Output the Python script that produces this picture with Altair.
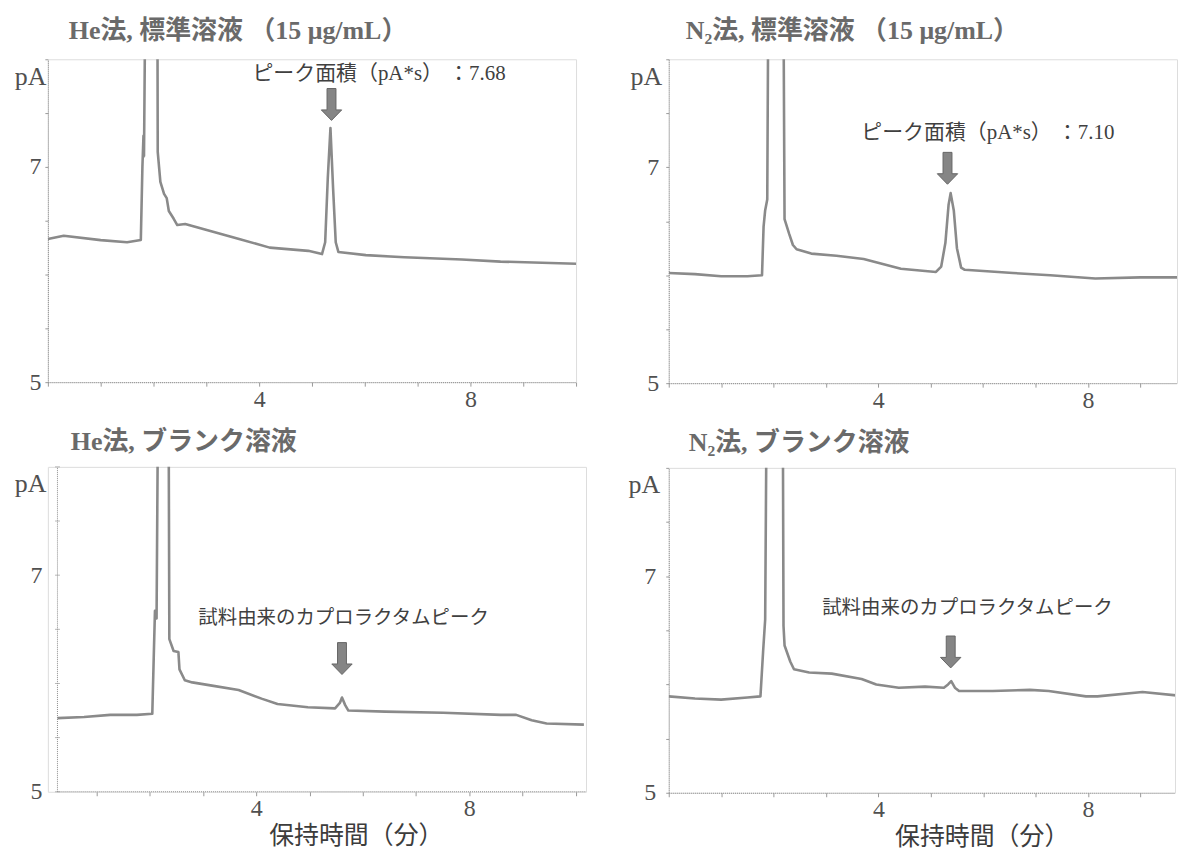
import altair as alt
import pandas as pd

# ---------------- data ----------------
# He method, standard solution (15 ug/mL)
he_std_t = [0.0, 0.3, 1.0, 1.5, 1.76, 1.79, 1.81, 1.82, 1.86, 2.07, 2.08, 2.13, 2.2, 2.25, 2.29, 2.38,
            2.45, 2.6, 3.11, 3.62, 4.2, 4.93, 5.19, 5.25, 5.3, 5.35, 5.4, 5.45, 5.5, 6.02, 6.75, 7.84,
            8.57, 10.0]
he_std_v = [6.33, 6.36, 6.32, 6.30, 6.32, 7.0, 7.29, 7.1, 9.5, 9.5, 7.14, 6.86, 6.75, 6.71, 6.59, 6.52,
            6.46, 6.47, 6.40, 6.33, 6.25, 6.22, 6.19, 6.30, 6.90, 7.36, 6.80, 6.30, 6.21, 6.18, 6.16, 6.14,
            6.12, 6.10]

# N2 method, standard solution
n2_std_t = [0.0, 0.5, 1.0, 1.5, 1.78, 1.81, 1.84, 1.88, 1.91, 2.18, 2.21, 2.3, 2.37, 2.44, 2.72, 3.2,
            3.72, 4.43, 5.1, 5.2, 5.28, 5.34, 5.38, 5.44, 5.5, 5.58, 5.65, 6.57, 7.28, 8.14, 9.0, 9.85]
n2_std_v = [6.02, 6.01, 5.99, 5.99, 6.00, 6.45, 6.60, 6.70, 9.5, 9.5, 6.52, 6.38, 6.28, 6.24, 6.20, 6.18,
            6.15, 6.06, 6.03, 6.08, 6.30, 6.65, 6.76, 6.60, 6.25, 6.07, 6.05, 6.02, 6.00, 5.97, 5.98, 5.98]

# He method, blank solution
he_blk_t = [0.27, 0.77, 1.26, 1.76, 2.05, 2.08, 2.10, 2.13, 2.17, 2.35, 2.37, 2.45, 2.54, 2.56, 2.66,
            2.80, 3.17, 3.67, 4.10, 4.40, 4.97, 5.48, 5.57, 5.61, 5.67, 5.73, 6.42, 7.51, 8.59, 8.88,
            9.17, 9.45, 10.15]
he_blk_v = [5.68, 5.69, 5.71, 5.71, 5.72, 6.30, 6.67, 6.60, 9.5, 9.5, 6.41, 6.30, 6.29, 6.13, 6.03,
            6.01, 5.98, 5.94, 5.86, 5.81, 5.78, 5.77, 5.82, 5.87, 5.80, 5.75, 5.74, 5.73, 5.71, 5.71,
            5.66, 5.63, 5.62]

# N2 method, blank solution
n2_blk_t = [0.0, 0.5, 1.0, 1.5, 1.75, 1.80, 1.84, 1.88, 2.17, 2.19, 2.21, 2.32, 2.39, 2.68, 3.11, 3.68,
            3.96, 4.39, 4.89, 5.25, 5.33, 5.39, 5.46, 5.54, 6.18, 6.89, 7.25, 7.96, 8.18, 9.04, 9.88]
n2_blk_v = [5.89, 5.87, 5.86, 5.88, 5.89, 6.30, 6.60, 9.5, 9.5, 6.54, 6.36, 6.21, 6.14, 6.11, 6.10, 6.05,
            6.00, 5.97, 5.98, 5.97, 6.00, 6.03, 5.97, 5.94, 5.94, 5.95, 5.94, 5.89, 5.89, 5.93, 5.89]

panel_titles = ["He法, 標準溶液 （15 μg/mL）", "N₂法, 標準溶液 （15 μg/mL）",
                "He法, ブランク溶液", "N₂法, ブランク溶液"]
note_texts = ["ピーク面積（pA*s） ：7.68", "ピーク面積（pA*s） ：7.10",
              "試料由来のカプロラクタムピーク", "試料由来のカプロラクタムピーク"]
# annotation anchors in data units (time, pA)
note_t = [6.27, 6.09, 5.64, 5.70]
note_v = [7.86, 7.32, 6.60, 6.71]
arrow_t = [5.37, 5.32, 5.61, 5.38]
arrow_v = [7.58, 6.99, 6.23, 6.30]

x_domains = [[0, 10], [0, 9.7], [0.09, 10.19], [0, 9.66]]
x_tick_values = [list(range(0, 11)), list(range(0, 10)), list(range(1, 11)), list(range(0, 10))]
y_tick_values = [5, 5.5, 6, 6.5, 7, 7.5, 8]
blank_he_axis_t = 0.27          # where the He-blank trace (and its frame) begins
x_axis_title = "保持時間（分）"
y_axis_title = "pA"

# ---------------- styling ----------------
SERIF = "Liberation Serif, Noto Sans CJK JP"
SANS = "Noto Sans CJK JP"
LINE = "#8a8a8a"
TXT = "#505050"
AXC = "#8c8c8c"
ARROW = "M-0.28,-1L0.28,-1L0.28,0.34L0.64,0.34L0,1L-0.64,0.34L-0.28,0.34Z"

series = [(he_std_t, he_std_v), (n2_std_t, n2_std_v), (he_blk_t, he_blk_v), (n2_blk_t, n2_blk_v)]
widths = [530, 510, 540, 508]
heights = [324, 325, 326, 326]
pa_x = [-2, -7, -2, -9]
label_pad = [4, 7, 6, 10]
title_dx = [21, 17, 23, 20]
title_off = [-11, -11, -15, -15]
note_font = [SERIF, SERIF, SANS, SANS]
note_size = [21, 21, 19.5, 19.5]
xtitle_x = [0, 0, 309, 314]


def panel(i, bottom):
    t, v = series[i]
    df = pd.DataFrame({"t": t, "v": v})
    xs = alt.Scale(domain=x_domains[i], nice=False, zero=False)
    ys = alt.Scale(domain=[5, 8], nice=False, zero=False)
    own_frame = (i == 2)
    xaxis = alt.Axis(
        values=x_tick_values[i],
        labelExpr="datum.value == 4 ? '4' : (datum.value == 8 ? '8' : '')",
        grid=False, tickSize=4, tickColor="#9a9a9a",
        domain=not own_frame, domainColor=AXC, domainDash=[1, 1], domainWidth=1,
        labelFont="Liberation Serif", labelFontSize=24, labelColor=TXT, labelPadding=1,
        title=x_axis_title if bottom else None,
        titleFont=SANS, titleFontSize=25, titleFontWeight="normal", titleColor="#3c3c3c",
        titlePadding=3, titleX=xtitle_x[i], titleAlign="center",
    )
    yaxis = alt.Axis(
        values=y_tick_values,
        labelExpr="datum.value == 5 ? '5' : (datum.value == 7 ? '7' : '')",
        grid=False, ticks=not own_frame, tickSize=3, tickColor="#9a9a9a",
        domain=not own_frame, domainColor=AXC, domainDash=[1, 1], domainWidth=1,
        labelFont="Liberation Serif", labelFontSize=24, labelColor=TXT, labelPadding=label_pad[i],
        title=y_axis_title, titleAngle=0, titleX=pa_x[i], titleY=17,
        titleAlign="right", titleBaseline="middle",
        titleFont="Liberation Serif", titleFontSize=26, titleFontWeight="normal", titleColor=TXT,
    )
    line = alt.Chart(df).mark_line(clip=True, color=LINE, strokeWidth=2.6, strokeJoin="round").encode(
        x=alt.X("t:Q", scale=xs, axis=xaxis),
        y=alt.Y("v:Q", scale=ys, axis=yaxis),
    )
    adf = pd.DataFrame({"t": [arrow_t[i]], "v": [arrow_v[i]]})
    arrow = alt.Chart(adf).mark_point(
        shape=ARROW, size=1024, filled=True, fill="#858585", stroke="#666666",
        strokeWidth=1, opacity=1,
    ).encode(x=alt.X("t:Q", scale=xs), y=alt.Y("v:Q", scale=ys))
    ndf = pd.DataFrame({"t": [note_t[i]], "v": [note_v[i]], "s": [note_texts[i]]})
    note = alt.Chart(ndf).mark_text(
        font=note_font[i], fontSize=note_size[i], color="#404040", align="center", baseline="middle",
    ).encode(x=alt.X("t:Q", scale=xs), y=alt.Y("v:Q", scale=ys), text="s:N")
    layers = [line, arrow, note]
    if own_frame:
        t0 = blank_he_axis_t
        t1 = x_domains[i][1]
        vdf = pd.DataFrame({"t": [t0], "v": [5], "v2": [8]})
        hdf = pd.DataFrame({"t": [t0], "t2": [t1], "v": [5]})
        tdf = pd.DataFrame({"t": [t0] * len(y_tick_values), "v": y_tick_values})
        vrule = alt.Chart(vdf).mark_rule(color=AXC, strokeDash=[1, 1], strokeWidth=1).encode(
            x=alt.X("t:Q", scale=xs), y=alt.Y("v:Q", scale=ys), y2="v2:Q")
        hrule = alt.Chart(hdf).mark_rule(color=AXC, strokeDash=[1, 1], strokeWidth=1).encode(
            x=alt.X("t:Q", scale=xs), x2="t2:Q", y=alt.Y("v:Q", scale=ys))
        ticks = alt.Chart(tdf).mark_tick(orient="horizontal", size=5, thickness=1, color="#9a9a9a").encode(
            x=alt.X("t:Q", scale=xs), y=alt.Y("v:Q", scale=ys))
        layers = [vrule, hrule, ticks] + layers
    return alt.layer(*layers).properties(
        width=widths[i], height=heights[i],
        title=alt.TitleParams(
            panel_titles[i], anchor="start", frame="group", dx=title_dx[i],
            font=SERIF, fontSize=26, fontWeight="bold", color="#6a6a6a",
            baseline="bottom", offset=title_off[i],
        ),
    )


left = alt.vconcat(panel(0, False), panel(2, True), spacing=17)
right = alt.vconcat(panel(1, False), panel(3, True), spacing=17)
chart = alt.hconcat(left, right, spacing=40).properties(
    padding={"left": 5, "top": 8, "right": 0, "bottom": 0}
).configure_view(stroke=None).configure(background="white")

chart.save("out.html", embed_options={"renderer": "svg", "actions": False})
